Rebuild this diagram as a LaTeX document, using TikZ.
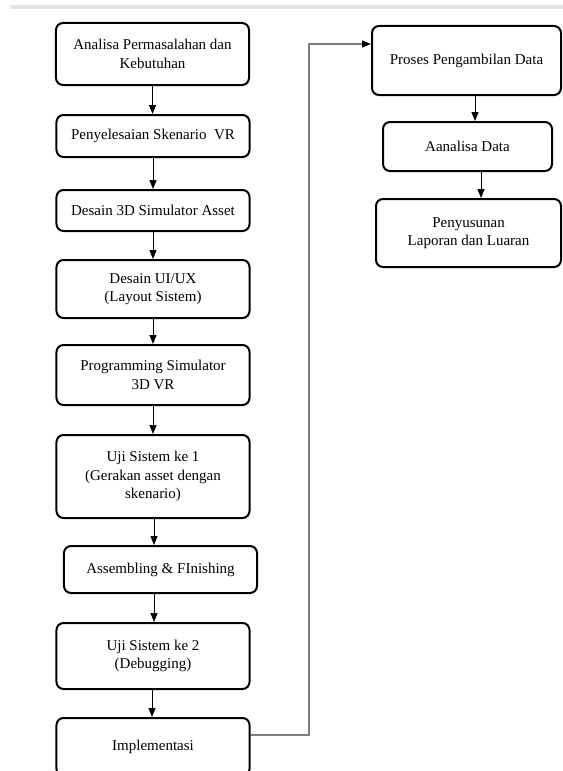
\documentclass[tikz,border=0pt]{standalone}
\usepackage{fontspec}
\setmainfont{Liberation Serif}
\usetikzlibrary{arrows.meta,calc}
\tikzset{
  box/.style={draw=black, line width=2bp, rounded corners=7bp, align=center,
    inner sep=0pt, font=\fontsize{15bp}{18.5bp}\selectfont, fill=white},
  conn/.style={draw=black, line width=0.9bp, -{Triangle[length=9bp,width=7bp]}},
  link/.style={draw=gray, line width=1.2bp, -{Triangle[length=9bp,width=7bp,color=black,fill=black]}}
}
\begin{document}
\begin{tikzpicture}[x=1bp,y=-1bp]
\useasboundingbox (0,0) rectangle (563,771);
\clip (0,0) rectangle (563,771);
\fill[white] (0,0) rectangle (563,771);
\fill[black!10] (10,5) rectangle (563,9);

\node[box, minimum width=193bp, minimum height=62bp] (b1) at (152.5,54) {Analisa Permasalahan dan\\Kebutuhan};
\node[box, minimum width=193bp, minimum height=42bp] (b2) at (153,136) {Penyelesaian Skenario~ VR};
\node[box, minimum width=193bp, minimum height=41bp] (b3) at (153,210.5) {Desain 3D Simulator Asset};
\node[box, minimum width=193bp, minimum height=58bp] (b4) at (153,289) {Desain UI/UX\\(Layout Sistem)};
\node[box, minimum width=193bp, minimum height=60bp] (b5) at (153,375) {Programming Simulator\\3D VR};
\node[box, minimum width=193bp, minimum height=83bp] (b6) at (153,476.5) {Uji Sistem ke 1\\(Gerakan asset dengan\\skenario)};
\node[box, minimum width=193bp, minimum height=47bp] (b7) at (160.5,569.5) {Assembling \& FInishing};
\node[box, minimum width=193bp, minimum height=66bp] (b8) at (153,656) {Uji Sistem ke 2\\(Debugging)};
\node[box, minimum width=193bp, minimum height=58bp] (b9) at (153,747) {Implementasi};

\node[box, minimum width=189bp, minimum height=69bp] (b10) at (466.5,60.5) {Proses Pengambilan Data};
\node[box, minimum width=169bp, minimum height=49bp] (b11) at (467.5,146.5) {Aanalisa Data};
\node[box, minimum width=185bp, minimum height=68bp] (b12) at (468.5,233) {Penyusunan\\Laporan dan Luaran};

\draw[conn] (b1.south) -- (b1.south |- b2.north);
\draw[conn] (b2.south) -- (b2.south |- b3.north);
\draw[conn] (b3.south) -- (b3.south |- b4.north);
\draw[conn] (b4.south) -- (b4.south |- b5.north);
\draw[conn] (b5.south) -- (b5.south |- b6.north);
\draw[conn] ([xshift=1bp]b6.south) -- ([xshift=1bp]b6.south |- b7.north);
\draw[conn] ([xshift=-6.5bp]b7.south) -- ([xshift=-6.5bp]b7.south |- b8.north);
\draw[conn] ([xshift=-1bp]b8.south) -- ([xshift=-1bp]b8.south |- b9.north);

\draw[conn] ([xshift=8.5bp]b10.south) -- ([xshift=8.5bp]b10.south |- b11.north);
\draw[conn] ([xshift=13.5bp]b11.south) -- ([xshift=13.5bp]b11.south |- b12.north);

\coordinate (k) at (309,44);
\draw[link] ([yshift=12bp]b9.east) -| (k) -- (k -| b10.west);
\end{tikzpicture}
\end{document}
